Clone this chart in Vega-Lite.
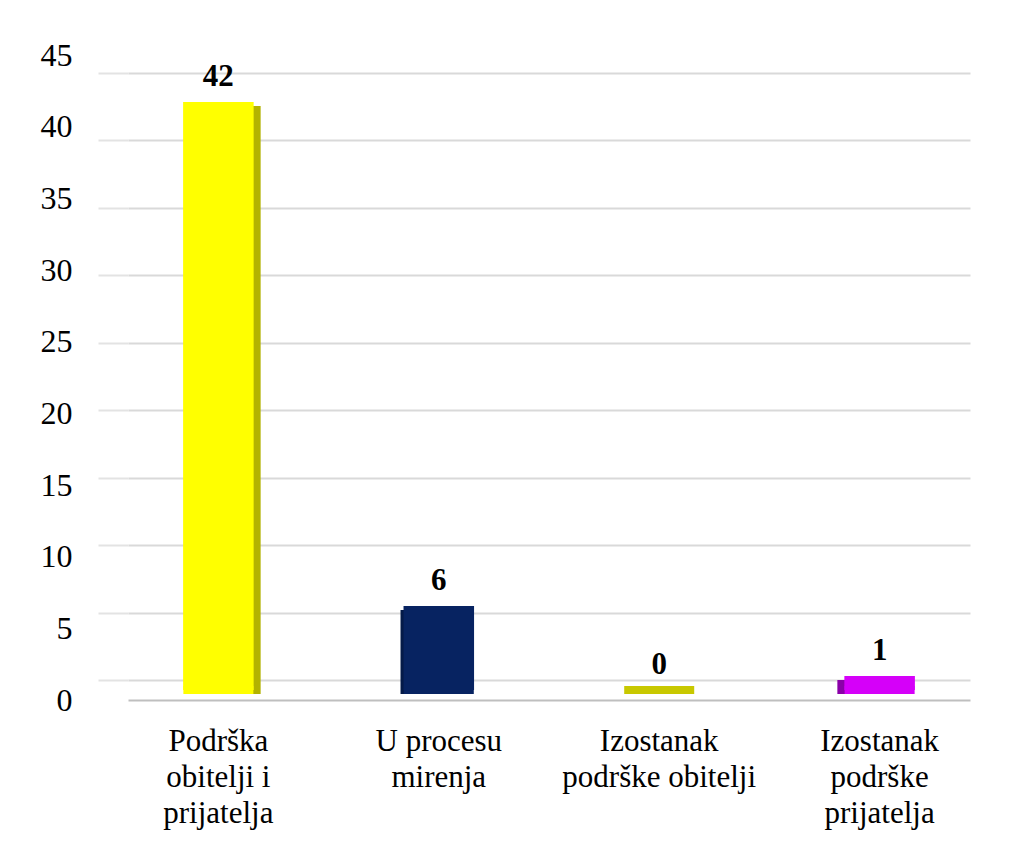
{
  "$schema": "https://vega.github.io/schema/vega-lite/v6.json",
  "width": 842,
  "height": 630,
  "autosize": {"type": "none"},
  "padding": {"left": 128, "top": 60, "right": 54, "bottom": 158},
  "background": "white",
  "config": {"view": {"stroke": null}, "font": "Liberation Serif"},
  "data": {
    "values": [
      {"kategorija": "Podrška obitelji i prijatelja", "broj": 42},
      {"kategorija": "U procesu mirenja", "broj": 6},
      {"kategorija": "Izostanak podrške obitelji", "broj": 0},
      {"kategorija": "Izostanak podrške prijatelja", "broj": 1}
    ]
  },
  "encoding": {
    "x": {
      "field": "kategorija",
      "type": "nominal",
      "sort": null,
      "scale": {"paddingInner": 0.68, "paddingOuter": 0.25},
      "axis": {
        "title": null,
        "labelAngle": 0,
        "ticks": false,
        "domain": true,
        "domainColor": "#bfbfbf",
        "domainWidth": 2,
        "offset": 10,
        "labelPadding": 26,
        "labelLimit": 0,
        "labelFontSize": 31,
        "labelLineHeight": 36,
        "labelColor": "#000000",
        "labelFont": "Liberation Serif",
        "labelExpr": "datum.value == 'Podrška obitelji i prijatelja' ? ['Podrška','obitelji i','prijatelja'] : datum.value == 'U procesu mirenja' ? ['U procesu','mirenja'] : datum.value == 'Izostanak podrške obitelji' ? ['Izostanak','podrške obitelji'] : ['Izostanak','podrške','prijatelja']"
      }
    }
  },
  "layer": [
    {
      "mark": {"type": "rule", "opacity": 0},
      "encoding": {
        "y": {
          "field": "broj",
          "type": "quantitative",
          "scale": {"domain": [-0.741, 45.964], "nice": false, "zero": false},
          "axis": {
            "title": null,
            "values": [0, 5, 10, 15, 20, 25, 30, 35, 40, 45],
            "grid": true,
            "gridColor": "#d9d9d9",
            "gridWidth": 2,
            "domain": false,
            "ticks": true,
            "tickSize": 30,
            "tickColor": "#e3e3e3",
            "tickWidth": 2,
            "labelPadding": 26,
            "labelFontSize": 32,
            "labelColor": "#000000",
            "labelFont": "Liberation Serif",
            "labelOffset": {"expr": "20 - 0.8444 * datum.value"}
          }
        }
      }
    },
    {
      "encoding": {
        "y": {
          "field": "broj",
          "type": "quantitative",
          "scale": {"domain": [0, 45], "nice": false},
          "axis": null
        }
      },
      "layer": [
        {
          "mark": {
            "type": "bar",
            "yOffset": 4,
            "xOffset": {"expr": "datum.kategorija == 'Podrška obitelji i prijatelja' ? 7 : datum.kategorija == 'U procesu mirenja' ? -3 : -7"}
          },
          "encoding": {
            "fill": {
              "field": "kategorija",
              "type": "nominal",
              "sort": null,
              "scale": {
                "domain": ["Podrška obitelji i prijatelja", "U procesu mirenja", "Izostanak podrške obitelji", "Izostanak podrške prijatelja"],
                "range": ["#b3b300", "#041a48", "#a0a000", "#8a00a8"]
              },
              "legend": null
            }
          }
        },
        {
          "mark": {"type": "tick", "thickness": 8, "size": 70, "opacity": 1},
          "encoding": {
            "y": {"datum": 0, "type": "quantitative"},
            "color": {
              "field": "kategorija",
              "type": "nominal",
              "sort": null,
              "scale": {
                "domain": ["Podrška obitelji i prijatelja", "U procesu mirenja", "Izostanak podrške obitelji", "Izostanak podrške prijatelja"],
                "range": ["#ffff00", "#072361", "#c8c800", "#d500f9"]
              },
              "legend": null
            }
          }
        },
        {
          "mark": {"type": "bar"},
          "encoding": {
            "color": {
              "field": "kategorija",
              "type": "nominal",
              "sort": null,
              "scale": {
                "domain": ["Podrška obitelji i prijatelja", "U procesu mirenja", "Izostanak podrške obitelji", "Izostanak podrške prijatelja"],
                "range": ["#ffff00", "#072361", "#c8c800", "#d500f9"]
              },
              "legend": null
            }
          }
        },
        {
          "mark": {
            "type": "text",
            "font": "Liberation Serif",
            "fontSize": 31,
            "fontWeight": "bold",
            "color": "#000000",
            "baseline": "alphabetic",
            "dy": -16
          },
          "encoding": {"text": {"field": "broj", "type": "quantitative"}}
        }
      ]
    }
  ],
  "resolve": {"scale": {"y": "independent"}}
}
